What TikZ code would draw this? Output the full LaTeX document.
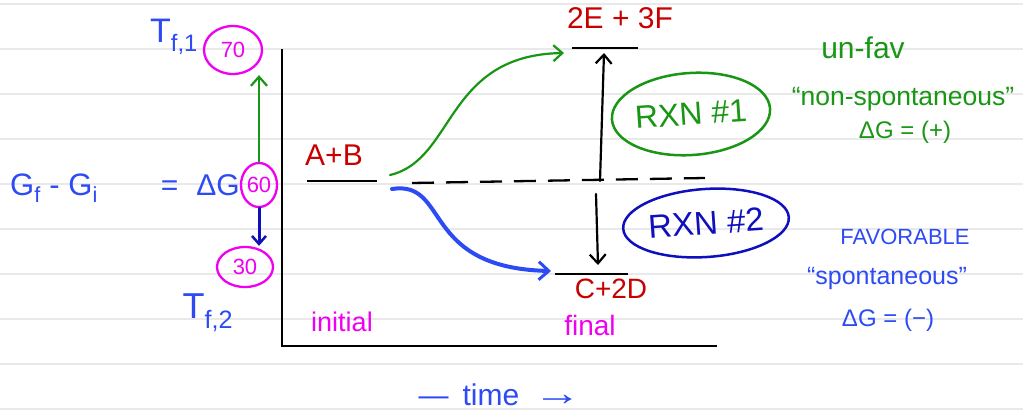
\documentclass[tikz,border=0pt]{standalone}
\usepackage{fontspec}
\usepackage{graphicx}
\setmainfont{Liberation Sans}
\usetikzlibrary{arrows.meta,shapes.geometric}
\definecolor{hred}{RGB}{200,0,0}
\definecolor{hgreen}{RGB}{25,150,20}
\definecolor{hblue}{RGB}{45,75,245}
\definecolor{hnavy}{RGB}{15,15,190}
\definecolor{hmag}{RGB}{240,0,240}
\definecolor{ruled}{RGB}{233,233,233}
\newcommand{\fs}[1]{\fontsize{#1}{#1}\selectfont}
\begin{document}
\begin{tikzpicture}[x=1pt,y=-1pt,
  ruleline/.style={ruled, line width=2.5pt},
  axisline/.style={black, line width=2.5pt},
  levelline/.style={black, line width=2.5pt},
  txt/.style={inner sep=0pt, font=\fs{24}},
  redtxt/.style={txt, text=hred},
  greentxt/.style={txt, text=hgreen},
  bluetxt/.style={txt, text=hblue},
  magtxt/.style={txt, text=hmag},
  circled/.style={ellipse, draw=hmag, line width=2.3pt, text=hmag, inner sep=0pt, font=\fs{22}},
  barb/.style={-{Straight Barb[length=9pt,width=16pt,line width=2.2pt]}},
  hand/.style={line width=2.2pt, line cap=round}
]
\fill[white] (0,0) rectangle (1023,412);
\useasboundingbox (0,0) rectangle (1023,412);
\foreach \y in {4,49,...,409} \draw[ruleline] (0,\y) -- (1023,\y);

% axes
\coordinate (ytop) at (282,49);
\coordinate (xend) at (717,346);
\draw[axisline] (ytop) |- (xend);

% energy levels
\coordinate (ab1) at (307,181); \coordinate (ab2) at (377,181);
\coordinate (ef1) at (572,48);  \coordinate (ef2) at (638,48);
\coordinate (cd1) at (555,274); \coordinate (cd2) at (628,274);
\draw[levelline] (ab1) -- (ab2);
\draw[levelline] (ef1) -- (ef2);
\draw[levelline] (cd1) -- (cd2);
\node[redtxt, font=\fs{30}] (lab) at (334,155) {A+B};
\node[redtxt, font=\fs{30}] (lef) at (620,18) {2E + 3F};
\node[redtxt, font=\fs{28}] (lcd) at (611,289) {C+2D};

% dashed reference
\coordinate (d1) at (412,183); \coordinate (d2) at (705,178);
\draw[black, line width=2.3pt, dash pattern=on 22pt off 12pt] (d1) -- (d2);

% reaction paths
\coordinate (gs) at (390,175); \coordinate (ge) at (564,53);
\draw[hgreen, hand, barb] (gs) .. controls (455,160) and (445,55) .. (ge);
\coordinate (bs) at (392,189); \coordinate (be) at (551,271);
\draw[hblue, line width=4pt, line cap=round, -{Straight Barb[length=10pt,width=18pt,line width=3pt]}] (bs) .. controls (450,180) and (420,268) .. (be);

% delta G arrows
\coordinate (u1) at (600,181); \coordinate (u2) at (604,53);
\draw[black, hand, barb] (u1) -- (u2);
\coordinate (w1) at (596,194); \coordinate (w2) at (598,265);
\draw[black, hand, barb] (w1) -- (w2);

% reaction labels
\node[ellipse, draw=hgreen, line width=2.5pt, text=hgreen, font=\fs{32}, minimum width=142pt, minimum height=82pt, rotate=4, inner sep=0pt] (rxn1) at (691,114) {RXN~\#1};
\node[ellipse, draw=hnavy, line width=2.5pt, text=hnavy, font=\fs{33}, minimum width=166pt, minimum height=68pt, rotate=4, inner sep=0pt] (rxn2) at (706,223) {RXN~\#2};

% right notes
\node[greentxt, font=\fs{30}] (unfav) at (863,48) {un-fav};
\node[greentxt, font=\fs{26.5}] (nonsp) at (903,99) {“non-spontaneous”};
\node[greentxt] (dgp) at (905,132) {ΔG = (+)};
\node[bluetxt, font=\fs{22}] (fav) at (905,237) {FAVORABLE};
\node[bluetxt, font=\fs{25}] (spon) at (887,278) {“spontaneous”};
\node[bluetxt] (dgm) at (888,320) {ΔG = (−)};

% left side
\node[bluetxt, font=\fs{31}, anchor=west] (gfgi) at (10,188) {G\textsubscript{f} - G\textsubscript{i}};
\node[circled, minimum width=36pt, minimum height=44pt] (c60) at (259,185) {60};
\node[bluetxt, font=\fs{30}, anchor=east] (eqdg) at (c60.west) {=\hspace{18pt}ΔG};
\node[circled, minimum width=58pt, minimum height=48pt] (c70) at (233,50) {70};
\node[circled, minimum width=56pt, minimum height=40pt] (c30) at (245,267) {30};
\node[bluetxt, font=\fs{34}] (tf1) at (174,37) {T\textsubscript{f,1}};
\node[bluetxt, font=\fs{36}] (tf2) at (208,313) {T\textsubscript{f,2}};
\draw[hgreen, hand, barb] (c60.north) -- (c60.north |- c70.south);
\draw[hnavy, line width=3pt, line cap=round, -{Straight Barb[length=8pt,width=14pt,line width=2.5pt]}] (c60.south) -- (c60.south |- c30.north);

% time labels
\node[magtxt, font=\fs{27}] (init) at (342,322) {initial};
\node[magtxt, font=\fs{28}] (fin) at (590,325) {final};
\node[bluetxt, font=\fs{30}] (time) at (500,395) {—\hspace{14pt}time\hspace{14pt}\scalebox{1.6}[1.2]{→}};
\end{tikzpicture}
\end{document}
